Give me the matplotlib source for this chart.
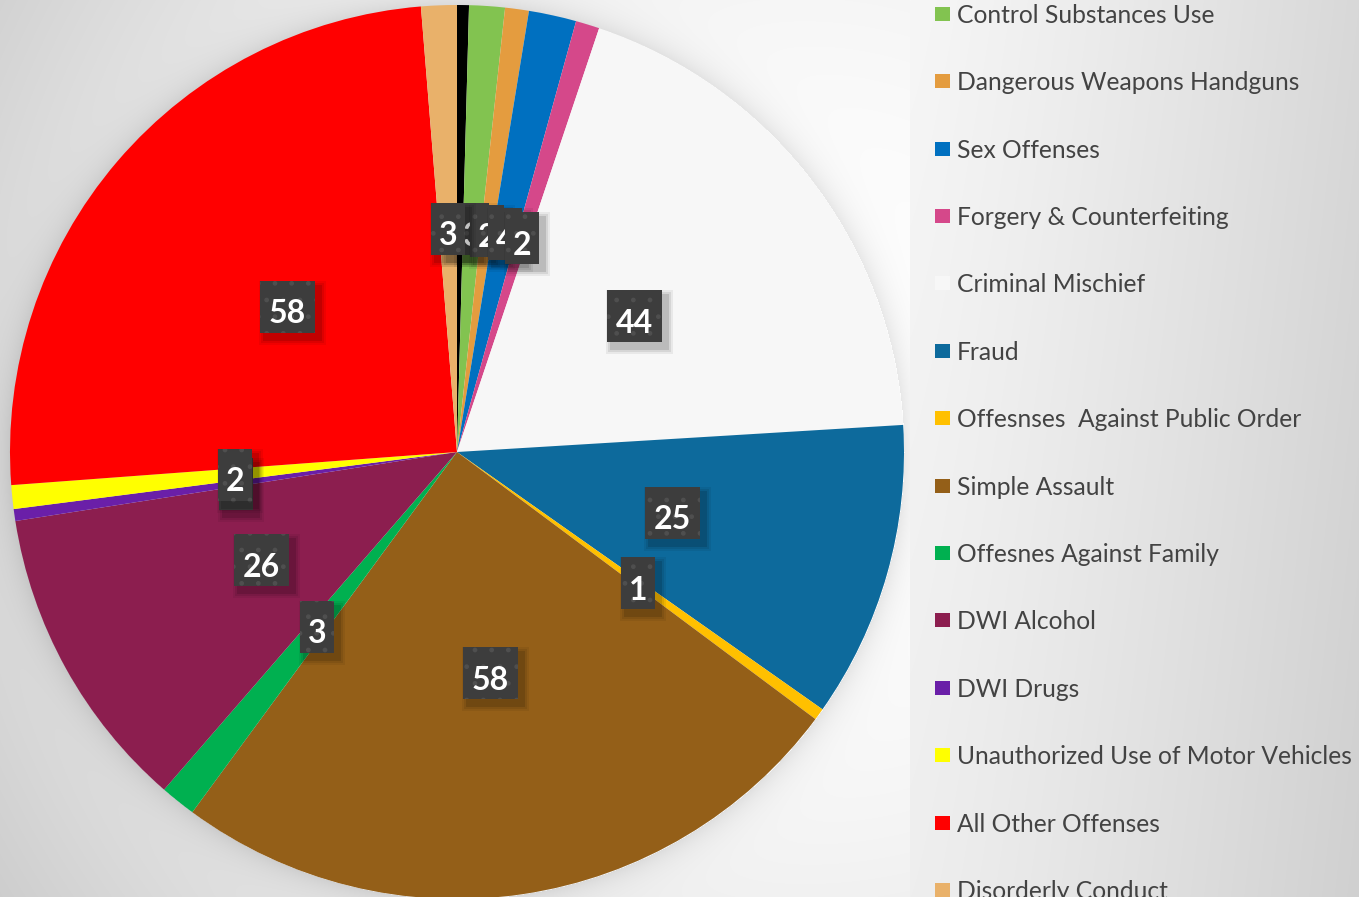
import numpy as np
import matplotlib
matplotlib.use("Agg")
import matplotlib.pyplot as plt
from matplotlib.patches import Rectangle

# ---------------- data ----------------
categories = ["", "Control Substances Use", "Dangerous Weapons Handguns", "Sex Offenses",
              "Forgery & Counterfeiting", "Criminal Mischief", "Fraud",
              "Offesnses  Against Public Order", "Simple Assault", "Offesnes Against Family",
              "DWI Alcohol", "DWI Drugs", "Unauthorized Use of Motor Vehicles",
              "All Other Offenses", "Disorderly Conduct"]
values = [1, 3, 2, 4, 2, 44, 25, 1, 58, 3, 26, 1, 2, 58, 3]
colors = ["#000000", "#82c350", "#e49c3f", "#0070c0", "#d5488a", "#f7f7f7", "#0d6a9c",
          "#ffc000", "#945f18", "#00b050", "#8c1e4f", "#6a1fa8", "#ffff00", "#ff0000",
          "#e9b16a"]

W, H = 1359, 897
CX, CY, R = 457, 452, 447  # pixel geometry (y from top)

fig = plt.figure(figsize=(W / 100, H / 100), dpi=100)
ax = fig.add_axes([0, 0, 1, 1])

# ---------------- background ----------------
yy, xx = np.mgrid[0:H, 0:W].astype(float)
d = np.hypot(xx - 800, yy - 400)
bg = 255 - 45 * (d / 900) ** 2
rr = np.hypot(xx - CX, yy - CY) - R
bg -= np.where(rr > 0, 22 * np.exp(-np.clip(rr, 0, None) / 14), 0)
panel = 246 - 30 * ((xx - 910) / 449).clip(0) ** 1.2 - 8 * (yy / H)
mask = xx >= 910
bg[mask] = panel[mask]
bg = np.clip(bg, 0, 255) / 255
ax.imshow(np.dstack([bg, bg, bg]), extent=(0, W, 0, H), origin="upper", zorder=0)

# ---------------- pie ----------------
cy_data = H - CY
wedges, _ = ax.pie(values, colors=colors, startangle=90, counterclock=False,
                   center=(CX, cy_data), radius=R,
                   wedgeprops=dict(linewidth=0, edgecolor="none"))
for w in wedges:
    w.set_zorder(2)

# ---------------- data labels ----------------
for w, v in zip(wedges, values):
    th = np.deg2rad((w.theta1 + w.theta2) / 2)
    x = CX + 0.5 * R * np.cos(th)
    y = cy_data + 0.5 * R * np.sin(th)
    s = str(v)
    bw = 13 + 21 * len(s)
    bh = 52
    for k, a in [(6, 0.06), (4, 0.08), (2, 0.12)]:
        ax.add_patch(Rectangle((x - bw / 2 + 5 - k, y - bh / 2 - 6 - k), bw + 2 * k, bh + 2 * k,
                               facecolor="black", alpha=a, linewidth=0, zorder=5))
    ax.add_patch(Rectangle((x - bw / 2, y - bh / 2), bw, bh, facecolor="#3d3d3d",
                           linewidth=0, zorder=5))
    ax.add_patch(Rectangle((x - bw / 2, y - bh / 2), bw, bh, facecolor="none",
                           edgecolor="#4f4f4f", linewidth=0, hatch=".", zorder=5))
    ax.text(x, y - 7, s, color="white", fontsize=23, fontweight="bold", family="Lato",
            ha="center", va="center", zorder=5)

# ---------------- legend ----------------
for i, (lab, col) in enumerate(zip(categories, colors)):
    if not lab:
        continue
    yc = 13.7 + 67.4 * (i - 1)
    ax.add_patch(Rectangle((935, H - yc - 7), 15, 14, facecolor=col, linewidth=0, zorder=6))
    ax.text(957, H - (yc + 9), lab, color="#434343", fontsize=17.7, family="Lato",
            ha="left", va="baseline", zorder=6)

ax.set_xlim(0, W)
ax.set_ylim(0, H)
ax.set_aspect("auto")
ax.axis("off")
fig.savefig("out.png", dpi=100)
